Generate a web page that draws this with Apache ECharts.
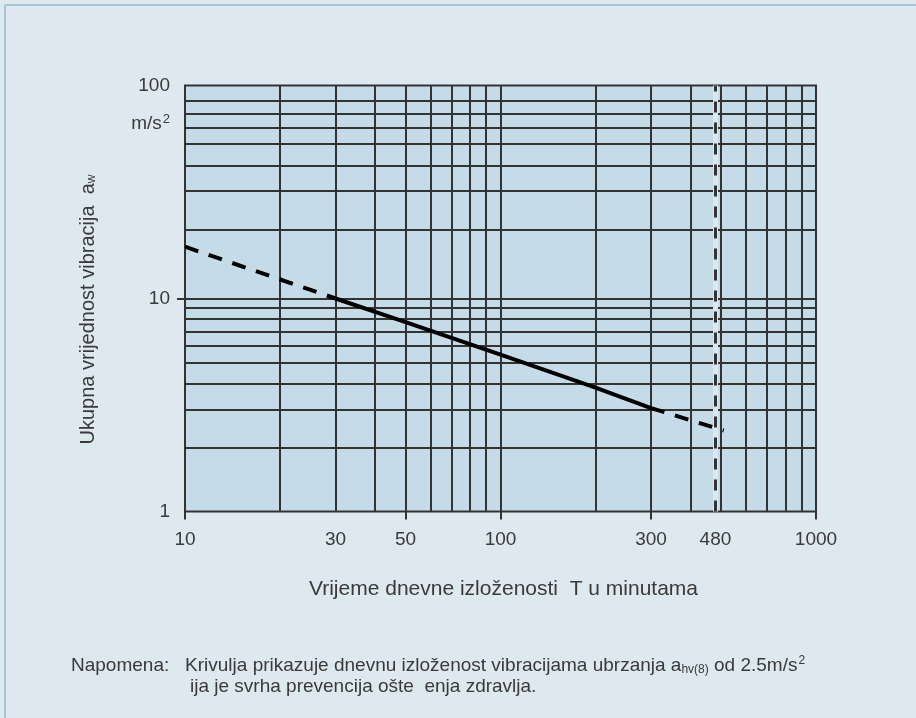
<!DOCTYPE html>
<html>
<head>
<meta charset="utf-8">
<script src="https://cdn.jsdelivr.net/npm/echarts@6/dist/echarts.min.js"></script>
<style>
  html, body { margin: 0; padding: 0; background: #dde8ef; }
  #chart { width: 916px; height: 718px; }
</style>
</head>
<body>
<div id="chart"></div>
<script>
// ---- data ----
const xLabelValues = [10, 30, 50, 100, 300, 480, 1000];
const xTickValues = [10, 50, 100, 300, 1000];
const yLabelValues = [1, 10, 100];
const yTickValues = [10];
const xGridValues = [20, 30, 40, 50, 60, 70, 80, 90, 100, 200, 300, 400, 500, 600, 700, 800, 900];
const yGridValues = [2, 3, 4, 5, 6, 7, 8, 9, 10, 21, 32, 42, 53, 63, 74, 85];
const limitT = 480;
const dashedLeft = [[10, 17.5], [30, 10]];
const solidCurve = [[30, 10], [50, 7.75], [100, 5.45], [200, 3.82], [300, 3.06]];
const dashedRight = [[300, 3.06], [510, 2.4]];

const textColor = '#3a3a3a';
const gridColor = '#333333';
const font = 'Liberation Sans, Arial, sans-serif';

const chart = echarts.init(document.getElementById('chart'), null, { renderer: 'canvas' });

const gridLines = [];
xGridValues.forEach(v => gridLines.push({ xAxis: v }));
yGridValues.forEach(v => gridLines.push({ yAxis: v }));

const option = {
  backgroundColor: '#dde8ef',
  animation: false,
  grid: {
    left: 185, right: 100, top: 85.5, bottom: 206.5,
    show: true,
    backgroundColor: '#c5dbe8',
    borderColor: gridColor,
    borderWidth: 2
  },
  xAxis: {
    type: 'log', logBase: 10, min: 10, max: 1000,
    name: 'Vrijeme dnevne izloženosti  T u minutama',
    nameLocation: 'middle',
    nameGap: 67,
    nameTextStyle: { color: textColor, fontSize: 21, fontFamily: font, padding: [0, 0, 0, 6] },
    axisLine: { show: false },
    splitLine: { show: false },
    minorSplitLine: { show: false },
    axisTick: { show: true, length: 8, inside: false, customValues: xTickValues,
      lineStyle: { color: gridColor, width: 2 } },
    axisLabel: { customValues: xLabelValues, color: textColor, fontSize: 19, fontFamily: font, margin: 19,
      formatter: v => String(Math.round(v)) }
  },
  yAxis: {
    type: 'log', logBase: 10, min: 1, max: 100,
    name: 'Ukupna vrijednost vibracija  a{sub|w}',
    nameLocation: 'middle',
    nameRotate: 90,
    nameGap: 87,
    nameTextStyle: { color: textColor, fontSize: 20, fontFamily: font, padding: [0, 22, 0, 0],
      rich: { sub: { fontSize: 12, fontFamily: font, color: textColor, verticalAlign: 'bottom', padding: [6, 0, 0, 0] } } },
    axisLine: { show: false },
    splitLine: { show: false },
    minorSplitLine: { show: false },
    axisTick: { show: true, length: 8, customValues: yTickValues,
      lineStyle: { color: gridColor, width: 2 } },
    axisLabel: { customValues: yLabelValues, color: textColor, fontSize: 19, fontFamily: font, margin: 15,
      formatter: v => String(Math.round(v)) }
  },
  series: [
    {
      name: 'grid', type: 'line', data: [], z: 1, silent: true,
      markLine: {
        silent: true, symbol: ['none', 'none'], animation: false,
        label: { show: false },
        lineStyle: { color: gridColor, width: 2, type: 'solid' },
        emphasis: { disabled: true },
        data: gridLines
      }
    },
    {
      name: 'limitStripe', type: 'line', data: [], z: 2, silent: true,
      markLine: {
        silent: true, symbol: ['none', 'none'], animation: false,
        label: { show: false },
        lineStyle: { color: '#dce8f0', width: 5, type: 'solid' },
        emphasis: { disabled: true },
        data: [{ xAxis: limitT }]
      }
    },
    {
      name: 'limitDash', type: 'line', data: [], z: 3, silent: true,
      markLine: {
        silent: true, symbol: ['none', 'none'], animation: false,
        label: { show: false },
        lineStyle: { color: '#333333', width: 3, type: [11, 10] },
        emphasis: { disabled: true },
        data: [{ xAxis: limitT }]
      }
    },
    {
      name: 'dashedLeft', type: 'line', data: dashedLeft, z: 5, symbol: 'none',
      lineStyle: { color: '#000', width: 4, type: [14, 11] }
    },
    {
      name: 'solid', type: 'line', data: solidCurve, z: 5, symbol: 'none',
      lineStyle: { color: '#000', width: 4, type: 'solid' }
    },
    {
      name: 'dashedRight', type: 'line', data: dashedRight, z: 5, symbol: 'none',
      lineStyle: { color: '#000', width: 4, type: [14, 11] }
    }
  ],
  graphic: [
    { type: 'line', shape: { x1: 5, y1: 5, x2: 916, y2: 5 }, style: { stroke: '#95bcd2', lineWidth: 1.5 }, silent: true },
    { type: 'line', shape: { x1: 5, y1: 5, x2: 5, y2: 718 }, style: { stroke: '#95bcd2', lineWidth: 1.5 }, silent: true },
    {
      type: 'text', right: 916 - 170, top: 113,
      style: {
        text: 'm/s{sup|2}', fill: textColor, font: '19px ' + font,
        rich: { sup: { fontSize: 13, fontFamily: font, fill: textColor, verticalAlign: 'top', padding: [0, 0, 8, 1] } }
      }
    },
    {
      type: 'text', left: 71, top: 655,
      style: {
        text: 'Napomena:   Krivulja prikazuje dnevnu izloženost vibracijama ubrzanja a{sub|hv(8)} od 2.5m/s{sup|2}',
        fill: textColor, font: '19px ' + font,
        rich: {
          sub: { fontSize: 12, fontFamily: font, fill: textColor, padding: [9, 0, 0, 0] },
          sup: { fontSize: 12, fontFamily: font, fill: textColor, padding: [0, 0, 9, 1] }
        }
      }
    },
    {
      type: 'text', left: 190, top: 677,
      style: { text: 'ija je svrha prevencija ošte  enja zdravlja.', fill: textColor, font: '19px ' + font }
    }
  ]
};
chart.setOption(option);
</script>
</body>
</html>
